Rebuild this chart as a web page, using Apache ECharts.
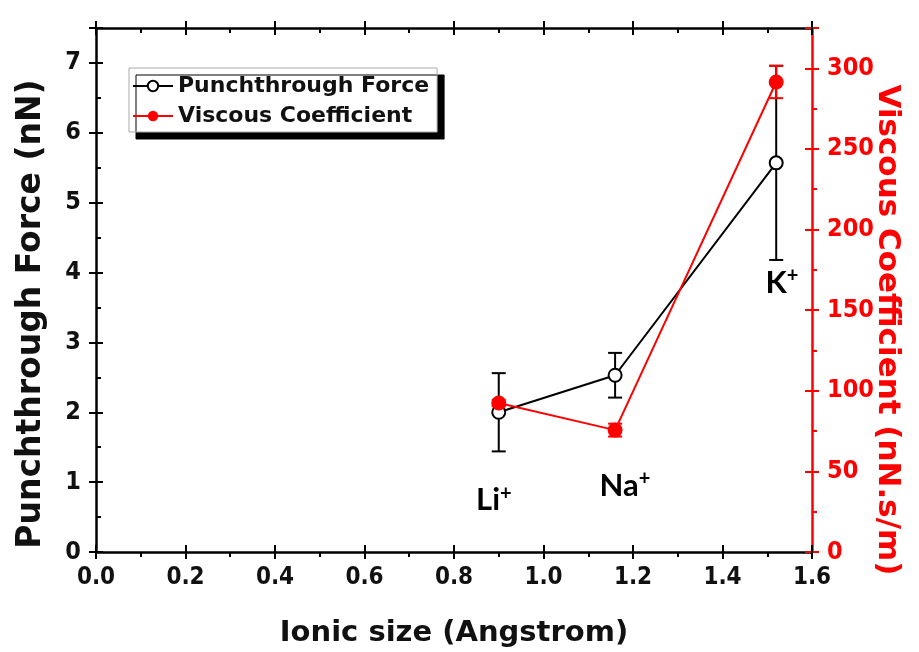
<!DOCTYPE html>
<html><head><meta charset="utf-8">
<script src="https://cdn.jsdelivr.net/npm/echarts@6/dist/echarts.min.js"></script>
<style>html,body{margin:0;padding:0;background:#fff}#c{width:919px;height:652px}</style>
</head><body><div id="c"></div>
<script>
// ---- data ----
const ionicSize = [0.90, 1.16, 1.52];
const punchForce = [2.00, 2.53, 5.57];
const punchErr = [0.56, 0.32, 1.39];
const viscous = [92.4, 75.6, 291.5];
const viscousErr = [2, 4, 10];
const ionNames = ['Li', 'Na', 'K'];
const ionLabelX = [0.889, 1.182, 1.533];
const ionLabelY = [0.74, 0.95, 3.85];
const xRange = [0, 1.6]; const xMajor = 0.2; const xMinor = 0.1;
const yLRange = [0, 7.5]; const yLMajor = 1; const yLMinor = 0.5;
const yRRange = [0, 325]; const yRMajor = 50; const yRMinor = 25;

const RED = '#ff0000', BLK = '#000000';
const tickFont = "'Liberation Sans Narrow','DejaVu Sans Condensed','Liberation Sans',sans-serif";
const nameFont = "'DejaVu Sans',sans-serif";

function ax(pos, o) {
  return Object.assign({
    type: 'value', position: pos, gridIndex: 0,
    splitLine: { show: false },
    axisLine: { show: false, onZero: false },
    axisLabel: { show: false },
    axisTick: { show: false },
    nameMoveOverlap: false
  }, o);
}
function xa(pos, o) { return ax(pos, Object.assign({ min: xRange[0], max: xRange[1], interval: xMajor }, o)); }
function yl(o) { return ax('left', Object.assign({ min: yLRange[0], max: yLRange[1], interval: yLMajor }, o)); }
function yr(o) { return ax('right', Object.assign({ min: yRRange[0], max: yRRange[1], interval: yRMajor }, o)); }
const line = (c) => ({ show: true, onZero: false, lineStyle: { color: c, width: 2.5 } });
const tick = (c, inside, len) => ({ show: true, inside: inside, length: len, lineStyle: { color: c, width: 2 } });

const xAxes = [
  xa('bottom', {
    axisLine: line(BLK), axisTick: tick(BLK, false, 7),
    axisLabel: { show: true, margin: 14, formatter: v => v.toFixed(1), fontFamily: tickFont, fontWeight: 'bold', fontSize: 24, color: '#111' },
    name: 'Ionic size (Angstrom)', nameLocation: 'middle', nameGap: 67,
    nameTextStyle: { fontFamily: nameFont, fontWeight: 'bold', fontSize: 29, color: '#111' }
  }),
  xa('bottom', { axisTick: tick(BLK, true, 7) }),
  xa('bottom', { interval: xMinor, axisTick: tick(BLK, false, 5) }),
  xa('top', { axisLine: line(BLK), axisTick: tick(BLK, false, 7) }),
  xa('top', { axisTick: tick(BLK, true, 7) }),
  xa('top', { interval: xMinor, axisTick: tick(BLK, true, 5) })
];
const yAxes = [
  yl({
    axisLine: line(BLK), axisTick: tick(BLK, false, 7),
    axisLabel: { show: true, margin: 15, formatter: v => Number.isInteger(v) ? String(v) : '', fontFamily: tickFont, fontWeight: 'bold', fontSize: 25, color: '#111' },
    name: 'Punchthrough Force (nN)', nameLocation: 'middle', nameGap: 48,
    nameTextStyle: { fontFamily: nameFont, fontWeight: 'bold', fontSize: 33, color: '#111', padding: [0, 48, 0, 0] }
  }),
  yl({ axisTick: tick(BLK, true, 7) }),
  yl({ interval: yLMinor, axisTick: tick(BLK, true, 5) }),
  yr({
    axisLine: line(RED), axisTick: tick(RED, false, 7),
    axisLabel: { show: true, margin: 15, formatter: v => (v % yRMajor === 0) ? String(v) : '', fontFamily: tickFont, fontWeight: 'bold', fontSize: 25, color: RED },
    name: 'Viscous Coefficient (nN.s/m)', nameLocation: 'middle', nameGap: 60, nameRotate: -90,
    nameTextStyle: { fontFamily: nameFont, fontWeight: 'bold', fontSize: 31, color: RED, padding: [0, 0, 0, 80] }
  }),
  yr({ axisTick: tick(RED, true, 7) }),
  yr({ interval: yRMinor, axisTick: tick(RED, false, 5) })
];

function errRender(color) {
  return function (params, api) {
    const x = api.value(0), lo = api.value(1), hi = api.value(2);
    const p1 = api.coord([x, lo]), p2 = api.coord([x, hi]);
    const w = 7;
    const st = { stroke: color, lineWidth: 2 };
    return { type: 'group', children: [
      { type: 'line', shape: { x1: p1[0], y1: p1[1], x2: p2[0], y2: p2[1] }, style: st },
      { type: 'line', shape: { x1: p1[0] - w, y1: p1[1], x2: p1[0] + w, y2: p1[1] }, style: st },
      { type: 'line', shape: { x1: p2[0] - w, y1: p2[1], x2: p2[0] + w, y2: p2[1] }, style: st }
    ] };
  };
}

const punchData = ionicSize.map((x, i) => [x, punchForce[i]]);
const punchErrData = ionicSize.map((x, i) => [x, punchForce[i] - punchErr[i], punchForce[i] + punchErr[i]]);
const viscData = ionicSize.map((x, i) => [x, viscous[i]]);
const viscErrData = ionicSize.map((x, i) => [x, viscous[i] - viscousErr[i], viscous[i] + viscousErr[i]]);
const labelData = ionNames.map((n, i) => ({ name: n, value: [ionLabelX[i], ionLabelY[i]] }));

const chart = echarts.init(document.getElementById('c'), null, { renderer: 'canvas' });
chart.setOption({
  animation: false,
  backgroundColor: '#fff',
  grid: { left: 96, right: 107, top: 28, bottom: 100, containLabel: false, outerBoundsMode: 'none' },
  xAxis: xAxes,
  yAxis: yAxes,
  legend: {
    data: ['Punchthrough Force', 'Viscous Coefficient'],
    orient: 'vertical', left: 129, top: 68,
    itemWidth: 40, itemHeight: 13, itemGap: 8,
    padding: [7, 8, 5, 3],
    backgroundColor: '#fff', borderColor: '#aaa', borderWidth: 1,
    shadowColor: '#000', shadowBlur: 0, shadowOffsetX: 7, shadowOffsetY: 7,
    textStyle: { fontFamily: nameFont, fontWeight: 'bold', fontSize: 22, color: '#111' },
    selectedMode: false
  },
  series: [
    { type: 'custom', name: 'punchErr', xAxisIndex: 0, yAxisIndex: 0, renderItem: errRender(BLK), data: punchErrData, z: 2, silent: true },
    { type: 'line', name: 'Punchthrough Force', xAxisIndex: 0, yAxisIndex: 0, data: punchData,
      symbol: 'circle', symbolSize: 13, lineStyle: { color: BLK, width: 2 },
      itemStyle: { color: '#fff', borderColor: BLK, borderWidth: 2 }, z: 3 },
    { type: 'custom', name: 'viscErr', xAxisIndex: 0, yAxisIndex: 3, renderItem: errRender(RED), data: viscErrData, z: 4, silent: true },
    { type: 'line', name: 'Viscous Coefficient', xAxisIndex: 0, yAxisIndex: 3, data: viscData,
      symbol: 'circle', symbolSize: 15, lineStyle: { color: RED, width: 2 },
      itemStyle: { color: RED, borderColor: RED, borderWidth: 0 }, z: 5 },
    { type: 'scatter', name: 'ions', xAxisIndex: 0, yAxisIndex: 0, data: labelData,
      symbol: 'circle', symbolSize: 1, itemStyle: { color: '#000', opacity: 0 }, silent: true, z: 6,
      label: { show: true, position: 'inside', color: '#000', opacity: 1,
        formatter: p => '{b|' + p.name + '}{s|+}',
        rich: {
          b: { fontFamily: 'Lato, sans-serif', fontWeight: 'bold', fontSize: 31, color: '#000', lineHeight: 34 },
          s: { fontFamily: 'Lato, sans-serif', fontWeight: 'bold', fontSize: 20, color: '#000', lineHeight: 20, verticalAlign: 'top' }
        } } }
  ]
});
</script></body></html>
